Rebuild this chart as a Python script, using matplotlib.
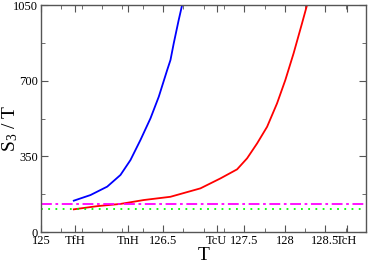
import numpy as np
import matplotlib
matplotlib.use("Agg")
import matplotlib.pyplot as plt

plt.rcParams['font.family'] = ['Liberation Serif', 'DejaVu Serif']
plt.rcParams['mathtext.fontset'] = 'custom'
plt.rcParams['mathtext.rm'] = 'Liberation Serif'
plt.rcParams['mathtext.default'] = 'regular'

# curves
blue_T = [125.405, 125.610, 125.816, 125.979, 126.102, 126.225, 126.348,
          126.450, 126.553, 126.594, 126.634, 126.695, 126.737]
blue_S = [145, 171, 210, 264, 333, 426, 526, 626, 749, 796, 873, 981, 1050]

red_T = [125.405, 125.700, 125.979, 126.265, 126.593, 126.962, 127.208,
         127.413, 127.536, 127.659, 127.782, 127.904, 128.006, 128.108, 128.211, 128.273]
red_S = [105, 120, 130, 148, 163, 202, 248,
         290, 341, 410, 487, 595, 703, 827, 965, 1050]

magenta_level = 130
green_level = 105

# x tick positions / labels
num_ticks = [125, 126.5, 127.5, 128, 128.5]
special_ticks = [125.42, 126.07, 127.16, 128.76]
special_labels = ['TfH', 'TnH', 'TcU', 'TcH']
y_ticks = [0, 350, 700, 1050]

fig = plt.figure(figsize=(3.68, 2.67), dpi=100)
ax = fig.add_axes([0.111, 0.131, 0.884, 0.850])

ax.plot(blue_T, blue_S, color='blue', lw=1.3)
ax.plot(red_T, red_S, color='red', lw=1.3)
ax.axhline(magenta_level, color='magenta', lw=1.3, ls=(0, (6, 2, 1.5, 2)))
ax.axhline(green_level, color='#00ff00', lw=1.3, ls=(0, (1, 3)))

ax.set_xlim(125, 129)
ax.set_ylim(0, 1050)

ax.set_xticks(num_ticks + special_ticks)
ax.set_xticklabels([str(t) for t in num_ticks] + special_labels)
ax.set_xticks(np.arange(125.25, 129, 0.25), minor=True)
ax.set_yticks(y_ticks)
ax.set_yticks([175, 525, 875], minor=True)

ax.tick_params(which='both', direction='in', top=True, right=True,
               labelsize=9, color='#555555', pad=2)
ax.tick_params(which='major', length=5)
ax.tick_params(which='minor', length=3)
for s in ax.spines.values():
    s.set_color('#555555')
    s.set_linewidth(1.0)

ax.set_xlabel('T', fontsize=14, labelpad=0)
fig.text(0.027, 0.52, 'S$_3$ / T', fontsize=14, rotation=90,
         ha='center', va='center')

fig.savefig('out.png', dpi=100)
